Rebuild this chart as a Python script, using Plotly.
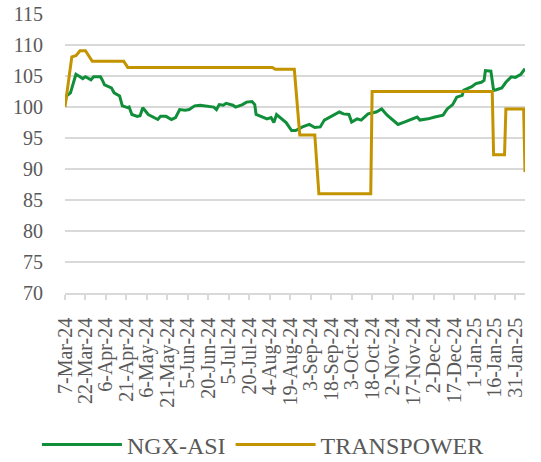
import pandas as pd
import plotly.graph_objects as go

# ---- data ----
ngx_dates = [
    "2024-03-07", "2024-03-08", "2024-03-11", "2024-03-13", "2024-03-15", "2024-03-18",
    "2024-03-20", "2024-03-22", "2024-03-26", "2024-03-28", "2024-04-02", "2024-04-03",
    "2024-04-05", "2024-04-10", "2024-04-12", "2024-04-16", "2024-04-18", "2024-04-22",
    "2024-04-23", "2024-04-25", "2024-04-29", "2024-05-01", "2024-05-03", "2024-05-07",
    "2024-05-10", "2024-05-14", "2024-05-16", "2024-05-20", "2024-05-24", "2024-05-27",
    "2024-05-30", "2024-06-03", "2024-06-06", "2024-06-10", "2024-06-14", "2024-06-19",
    "2024-06-24", "2024-06-26", "2024-06-28", "2024-07-01", "2024-07-03", "2024-07-08",
    "2024-07-10", "2024-07-15", "2024-07-18", "2024-07-22", "2024-07-24", "2024-07-25",
    "2024-07-29", "2024-08-02", "2024-08-05", "2024-08-07", "2024-08-09", "2024-08-13",
    "2024-08-16", "2024-08-20", "2024-08-23", "2024-08-28", "2024-09-02", "2024-09-06",
    "2024-09-10", "2024-09-13", "2024-09-18", "2024-09-24", "2024-09-27", "2024-10-01",
    "2024-10-03", "2024-10-07", "2024-10-10", "2024-10-15", "2024-10-21", "2024-10-25",
    "2024-10-29", "2024-11-04", "2024-11-06", "2024-11-11", "2024-11-15", "2024-11-20",
    "2024-11-22", "2024-11-28", "2024-12-03", "2024-12-09", "2024-12-12", "2024-12-16",
    "2024-12-19", "2024-12-23", "2024-12-24", "2024-12-30", "2025-01-02", "2025-01-06",
    "2025-01-08", "2025-01-09", "2025-01-13", "2025-01-15", "2025-01-17", "2025-01-21",
    "2025-01-24", "2025-01-28", "2025-01-31", "2025-02-04", "2025-02-07",
]
ngx_values = [
    100.7, 101.8, 102.3, 103.9, 105.3, 104.9,
    104.6, 104.9, 104.4, 104.9, 104.9, 104.5,
    103.6, 103.1, 102.3, 101.8, 100.2, 99.9,
    100.0, 98.8, 98.5, 98.6, 99.9, 98.8,
    98.5, 98.0, 98.5, 98.5, 98.0, 98.3,
    99.6, 99.5, 99.6, 100.2, 100.3, 100.2,
    100.0, 99.6, 100.4, 100.3, 100.6, 100.3,
    100.0, 100.4, 100.8, 100.9, 100.4, 98.8,
    98.5, 98.1, 98.3, 97.5, 98.8, 98.0,
    97.5, 96.2, 96.2, 96.8, 97.2, 96.7,
    96.8, 97.9, 98.5, 99.2, 98.9, 98.8,
    97.6, 98.1, 97.9, 98.9, 99.2, 99.7,
    98.7, 97.6, 97.2, 97.6, 98.0, 98.4,
    97.9, 98.1, 98.4, 98.7, 99.7, 100.4,
    101.6, 101.9, 102.7, 103.3, 103.8, 104.0,
    104.3, 105.9, 105.8, 102.7, 102.8, 103.1,
    104.0, 104.9, 104.8, 105.3, 106.2,
]

tp_dates = [
    "2024-03-07", "2024-03-12", "2024-03-15", "2024-03-18", "2024-03-22", "2024-03-25",
    "2024-03-27", "2024-04-19", "2024-04-22", "2024-08-06", "2024-08-08", "2024-08-22",
    "2024-08-26", "2024-09-06", "2024-09-09", "2024-10-17", "2024-10-18", "2025-01-14",
    "2025-01-15", "2025-01-23", "2025-01-24", "2025-02-06", "2025-02-07",
]
tp_values = [
    100.0, 108.1, 108.3, 109.1, 109.1, 108.1,
    107.4, 107.4, 106.4, 106.4, 106.1, 106.1,
    95.5, 95.5, 86.0, 86.0, 102.5, 102.5,
    92.3, 92.3, 99.7, 99.7, 89.5,
]

tick_labels = [
    "7-Mar-24", "22-Mar-24", "6-Apr-24", "21-Apr-24", "6-May-24", "21-May-24",
    "5-Jun-24", "20-Jun-24", "5-Jul-24", "20-Jul-24", "4-Aug-24", "19-Aug-24",
    "3-Sep-24", "18-Sep-24", "3-Oct-24", "18-Oct-24", "2-Nov-24", "17-Nov-24",
    "2-Dec-24", "17-Dec-24", "1-Jan-25", "16-Jan-25", "31-Jan-25",
]
y_ticks = [70, 75, 80, 85, 90, 95, 100, 105, 110, 115]

tick_dates = [pd.to_datetime(t, format="%d-%b-%y") for t in tick_labels]

GREEN = "#108E3A"
GOLD = "#C49400"
TEXT = "#595959"
GRID = "#D9D9D9"
FONT = "Liberation Serif, DejaVu Serif, serif"

fig = go.Figure()
fig.add_trace(go.Scatter(x=pd.to_datetime(ngx_dates), y=ngx_values, mode="lines",
                         name="NGX-ASI", line=dict(color=GREEN, width=3)))
fig.add_trace(go.Scatter(x=pd.to_datetime(tp_dates), y=tp_values, mode="lines",
                         name="TRANSPOWER", line=dict(color=GOLD, width=3)))

fig.update_layout(
    width=541, height=462,
    margin=dict(l=65, r=16, t=14, b=169, autoexpand=False),
    paper_bgcolor="white", plot_bgcolor="white",
    font=dict(family=FONT, color=TEXT),
    showlegend=True,
    legend=dict(orientation="h", xref="container", yref="container",
                x=0.486, xanchor="center", y=0.037, yanchor="middle",
                font=dict(size=24, color=TEXT, family=FONT), itemwidth=80,
                traceorder="normal"),
    xaxis=dict(
        type="date", automargin=False,
        range=[pd.Timestamp("2024-03-07"), pd.Timestamp("2025-02-07")],
        tickmode="array", tickvals=tick_dates, ticktext=tick_labels,
        tickangle=-90, tickfont=dict(size=20, color=TEXT, family=FONT),
        showgrid=False, showline=True, linecolor=GRID, linewidth=1.5,
        ticks="outside", ticklen=5, tickcolor=GRID, tickwidth=1.5,
        ticklabelstandoff=10, zeroline=False,
    ),
    yaxis=dict(
        range=[69.98, 115.03], tickmode="array", tickvals=y_ticks, automargin=False,
        tickfont=dict(size=20, color=TEXT, family=FONT), ticklabeloverflow="allow",
        showgrid=True, gridcolor=GRID, gridwidth=1.5,
        showline=False, zeroline=False, ticks="", ticklabelstandoff=21,
    ),
)

fig.write_html("out.html", config={"displayModeBar": False},
               post_script="document.body.style.margin='0';")
